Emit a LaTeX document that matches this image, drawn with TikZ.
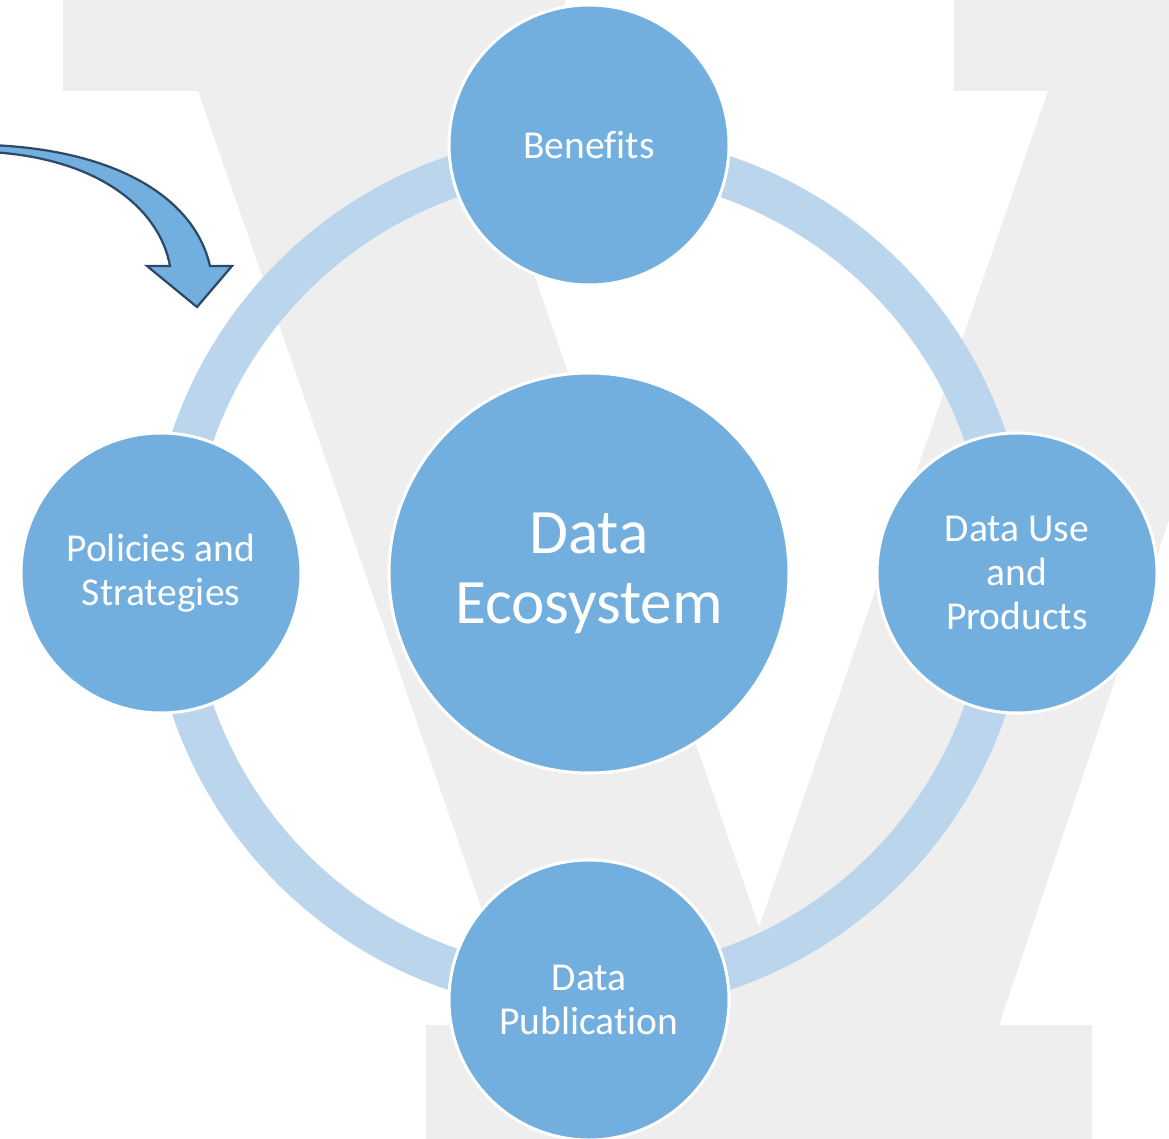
\documentclass[tikz,border=0pt]{standalone}
\usepackage{fontspec}
\setmainfont{Carlito}[Ligatures=NoCommon]
\usepackage{xcolor}
\definecolor{bubble}{HTML}{72AFDF}
\definecolor{ringblue}{HTML}{BBD5EC}
\definecolor{backgrey}{HTML}{EEEEEE}
\definecolor{arrowline}{HTML}{2C4A68}
\tikzset{outer/.style={circle,fill=bubble,draw=white,line width=0.6mm,
        minimum size=56mm,inner sep=0pt,text=white,align=center,
        font=\fontsize{22.5}{25}\selectfont},
    hub/.style={outer,minimum size=80mm,font=\fontsize{36}{40}\selectfont},
    ring/.style={draw=ringblue,line width=8.4mm},
    bendarrow/.style={draw=arrowline,fill=bubble,line width=0.45mm}}

\begin{document}
\begin{tikzpicture}[x=0.2mm,y=-0.2mm]
	\useasboundingbox (0,0) rectangle (1169,1139);
	% letter in the background
	\fill[backgrey] (63,0) -- (565,0) -- (565,91) -- (471,91) -- (759,927)
		-- (1048,91) -- (954,91) -- (954,0) -- (1169,0) -- (1169,520)
		-- (999,1025) -- (1092,1025) -- (1092,1139) -- (426,1139)
		-- (426,1025) -- (522,1025) -- (198,91) -- (63,91) -- cycle;
	\coordinate (mid) at (589,573);
	\draw[ring] (mid) circle[radius=83.8mm];
	\node[hub] (eco) at (mid) {Data\\Ecosystem};
	\node[outer] (benefits) at (589,145) {Benefits};
	\node[outer] (use) at (1017,573) {Data Use\\and\\Products};
	\node[outer] (publication) at (589,1000) {Data\\Publication};
	\node[outer] (policies) at (161,573) {Policies and\\Strategies};
	% curved arrow
	\draw[bendarrow] (-10,145) .. controls (120,150) and (195,200) .. (210,266)
		-- (232,266) -- (197,307) -- (147,266) -- (170,266)
		.. controls (160,210) and (100,158) .. (-10,152) -- cycle;
\end{tikzpicture}
\end{document}
